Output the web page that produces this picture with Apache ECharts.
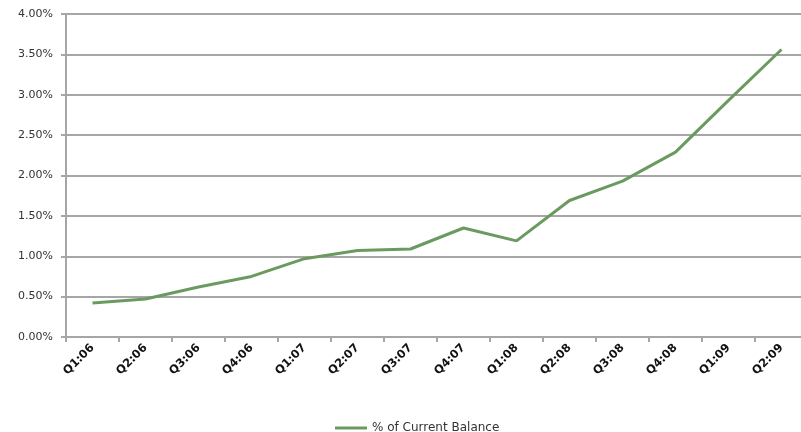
<!DOCTYPE html>
<html>
<head>
<meta charset="utf-8">
<script src="https://cdn.jsdelivr.net/npm/echarts@6/dist/echarts.min.js"></script>
<style>html,body{margin:0;padding:0;background:#fff}#c{width:801px;height:432px}</style>
</head>
<body>
<div id="c"></div>
<script>
var categories = ['Q1:06','Q2:06','Q3:06','Q4:06','Q1:07','Q2:07','Q3:07','Q4:07','Q1:08','Q2:08','Q3:08','Q4:08','Q1:09','Q2:09'];
var seriesName = '% of Current Balance';
var values = [0.42, 0.47, 0.62, 0.75, 0.97, 1.07, 1.09, 1.35, 1.19, 1.69, 1.93, 2.29, 2.93, 3.56];

var chart = echarts.init(document.getElementById('c'), null, {renderer: 'canvas'});
chart.setOption({
  animation: false,
  backgroundColor: '#ffffff',
  grid: {left: 66, top: 14, bottom: 95, right: -7, containLabel: false, outerBoundsMode: 'none'},
  legend: {
    data: [{name: seriesName, icon: 'rect'}],
    left: 330, top: 417,
    itemWidth: 32, itemHeight: 3, itemGap: 3,
    textStyle: {fontFamily: 'DejaVu Sans', fontSize: 12, color: '#333'}
  },
  xAxis: {
    type: 'category',
    data: categories,
    boundaryGap: true,
    axisLine: {lineStyle: {color: '#a6a6a6', width: 2}},
    axisTick: {show: true, length: 5, lineStyle: {color: '#a6a6a6', width: 2}},
    axisLabel: {rotate: 45, margin: 9, interval: 0, fontFamily: 'DejaVu Sans', fontWeight: 'bold', fontSize: 11.5, color: '#111'},
    splitLine: {show: false}
  },
  yAxis: {
    type: 'value',
    min: 0, max: 4, interval: 0.5,
    axisLine: {show: true, lineStyle: {color: '#a6a6a6', width: 2}},
    axisTick: {show: true, length: 5, lineStyle: {color: '#a6a6a6', width: 2}},
    axisLabel: {formatter: function (v) { return v.toFixed(2) + '%'; }, margin: 13, fontFamily: 'DejaVu Sans', fontSize: 11, color: '#333'},
    splitLine: {show: true, lineStyle: {color: '#a6a6a6', width: 2}}
  },
  series: [{
    name: seriesName,
    type: 'line',
    data: values,
    symbol: 'none',
    lineStyle: {color: '#6b9a60', width: 3},
    itemStyle: {color: '#6b9a60'}
  }]
});
</script>
</body>
</html>
